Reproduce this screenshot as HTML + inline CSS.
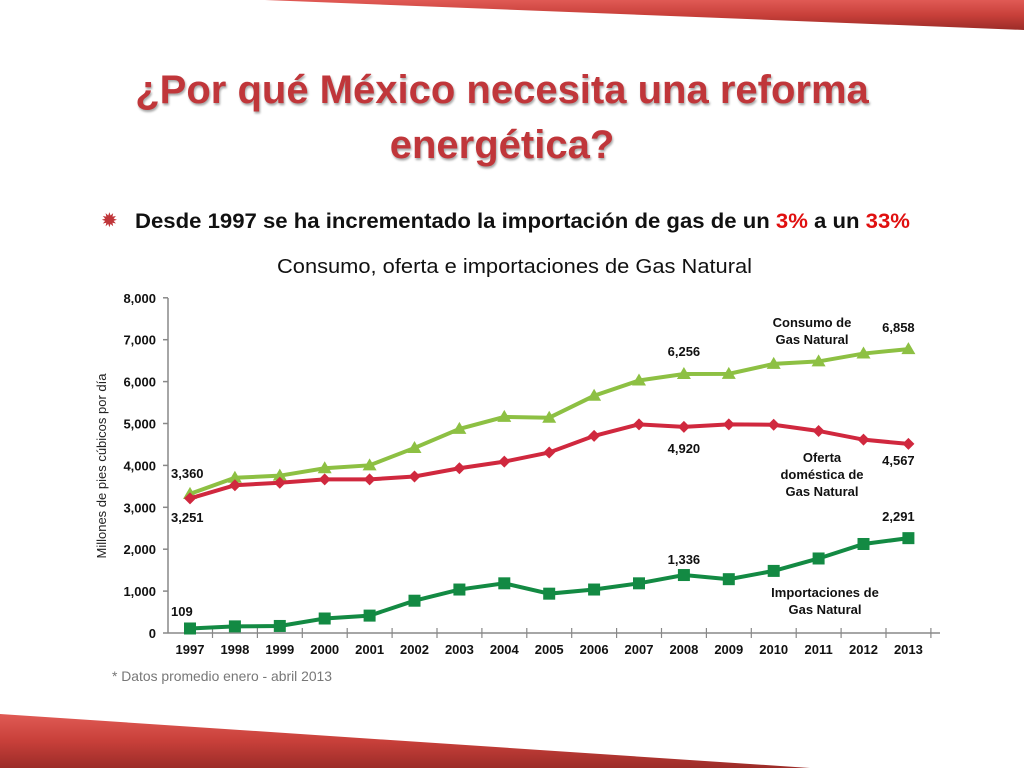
<!DOCTYPE html>
<html><head><meta charset="utf-8"><style>
body{margin:0;width:1024px;height:768px;background:#fff;overflow:hidden;font-family:"Liberation Sans",sans-serif;}
</style></head><body>
<svg width="1024" height="768" xmlns="http://www.w3.org/2000/svg">
<defs>
<linearGradient id="rg" x1="0" y1="0" x2="0" y2="1"><stop offset="0" stop-color="#e05a55"/><stop offset="0.5" stop-color="#c8403a"/><stop offset="1" stop-color="#9c2c28"/></linearGradient>
</defs>
<polygon points="265,0 1024,0 1024,30" fill="url(#rg)"/>
<polygon points="0,714 810,768 0,768" fill="url(#rg)"/>
<text x="502" y="103" text-anchor="middle" font-size="40" font-weight="bold" fill="#c0363a" style="filter:drop-shadow(1px 2px 1px rgba(0,0,0,0.35))">¿Por qué México necesita una reforma</text>
<text x="502" y="158" text-anchor="middle" font-size="40" font-weight="bold" fill="#c0363a" style="filter:drop-shadow(1px 2px 1px rgba(0,0,0,0.35))">energética?</text>
<text x="101" y="227" font-size="20" fill="#c0363a">✹</text>
<text x="135" y="228" font-size="21" font-weight="bold" fill="#111" textLength="775" lengthAdjust="spacingAndGlyphs">Desde 1997 se ha incrementado la importación de gas de un <tspan fill="#e01010">3%</tspan> a un <tspan fill="#e01010">33%</tspan></text>
<text x="277" y="273" font-size="20" fill="#111" textLength="475" lengthAdjust="spacingAndGlyphs">Consumo, oferta e importaciones de Gas Natural</text>
<g id="chart"></g>
<text x="112" y="681" font-size="14" fill="#777" textLength="220" lengthAdjust="spacingAndGlyphs">* Datos promedio enero - abril 2013</text>
</svg>
<script>
const years=["1997","1998","1999","2000","2001","2002","2003","2004","2005","2006","2007","2008","2009","2010","2011","2012","2013"];
const consumo=[3360,3750,3800,3980,4050,4470,4930,5220,5200,5730,6100,6256,6260,6500,6560,6750,6858];
const oferta=[3251,3570,3630,3710,3710,3780,3980,4140,4360,4760,5040,4980,5040,5030,4880,4670,4567];
const importaciones=[109,160,170,350,420,780,1050,1200,950,1050,1200,1400,1300,1500,1800,2150,2291];
const yTicks=[0,1000,2000,3000,4000,5000,6000,7000,8000];
const NS="http://www.w3.org/2000/svg";
const g=document.getElementById('chart');
const x=i=>190+i*44.9;
const y=v=>633-v*0.0414;
const yt_=v=>633-v*0.0419;
function mk(t,a,p){const e=document.createElementNS(NS,t);for(const k in a)e.setAttribute(k,a[k]);(p||g).appendChild(e);return e;}
let ax=mk('line',{x1:168,y1:298,x2:168,y2:633,stroke:'#888','stroke-width':1.5});


let bx=mk('line',{x1:168,y1:633,x2:940,y2:633,stroke:'#888','stroke-width':1.5});


yTicks.forEach(v=>{
 mk('line',{x1:163,y1:yt_(v),x2:168,y2:yt_(v),stroke:'#888','stroke-width':1.5});
 const t=mk('text',{x:156,y:yt_(v)+5,'text-anchor':'end','font-size':13,'font-weight':'bold',fill:'#111'});
 t.textContent=v.toLocaleString('en-US');
 
 
});
years.forEach((yr,i)=>{
 mk('line',{x1:x(i)+22.5,y1:628,x2:x(i)+22.5,y2:638,stroke:'#888','stroke-width':1.2});
 const t=mk('text',{x:x(i),y:654,'text-anchor':'middle','font-size':13,'font-weight':'bold',fill:'#111'});
 t.textContent=yr;
 
 
});
const yt=mk('text',{transform:'translate(106,466) rotate(-90)','text-anchor':'middle','font-size':13,fill:'#222'});
yt.textContent='Millones de pies cúbicos por día';


function series(vals,color,shape,name){
 const l=mk('polyline',{points:vals.map((v,i)=>x(i)+','+y(v)).join(' '),fill:'none',stroke:color,'stroke-width':4});
 
 
 vals.forEach((v,i)=>{
  const cx=x(i),cy=y(v);let m;
  if(shape==='tri')m=mk('polygon',{points:`${cx},${cy-7} ${cx-7},${cy+5} ${cx+7},${cy+5}`,fill:color});
  else if(shape==='dia')m=mk('polygon',{points:`${cx},${cy-6} ${cx+6},${cy} ${cx},${cy+6} ${cx-6},${cy}`,fill:color});
  else m=mk('rect',{x:cx-6,y:cy-6,width:12,height:12,fill:color});
  
  
 });
}
series(consumo,'#8dc043','tri','consumo');
series(oferta,'#d0283e','dia','oferta');
series(importaciones,'#138a43','sq','importaciones');
function lbl(tx,xx,yy,anchor,name){const t=mk('text',{x:xx,y:yy,'text-anchor':anchor||'middle','font-size':13,'font-weight':'bold',fill:'#111'});t.textContent=tx;
 
 }
lbl('3,360',171,478,'start','value-label');
lbl('3,251',171,522,'start','value-label');
lbl('109',171,616,'start','value-label');
lbl('6,256',x(11),356,'middle','value-label');
lbl('4,920',x(11),453,'middle','value-label');
lbl('1,336',x(11),564,'middle','value-label');
lbl('6,858',x(16)-10,332,'middle','value-label');
lbl('4,567',x(16)-10,465,'middle','value-label');
lbl('2,291',x(16)-10,521,'middle','value-label');
lbl('Consumo de',812,327,'middle','legend-consumo');
lbl('Gas Natural',812,344,'middle','legend-consumo');
lbl('Oferta',822,462,'middle','legend-oferta');
lbl('doméstica de',822,479,'middle','legend-oferta');
lbl('Gas Natural',822,496,'middle','legend-oferta');
lbl('Importaciones de',825,597,'middle','legend-importaciones');
lbl('Gas Natural',825,614,'middle','legend-importaciones');
</script>
</body></html>
